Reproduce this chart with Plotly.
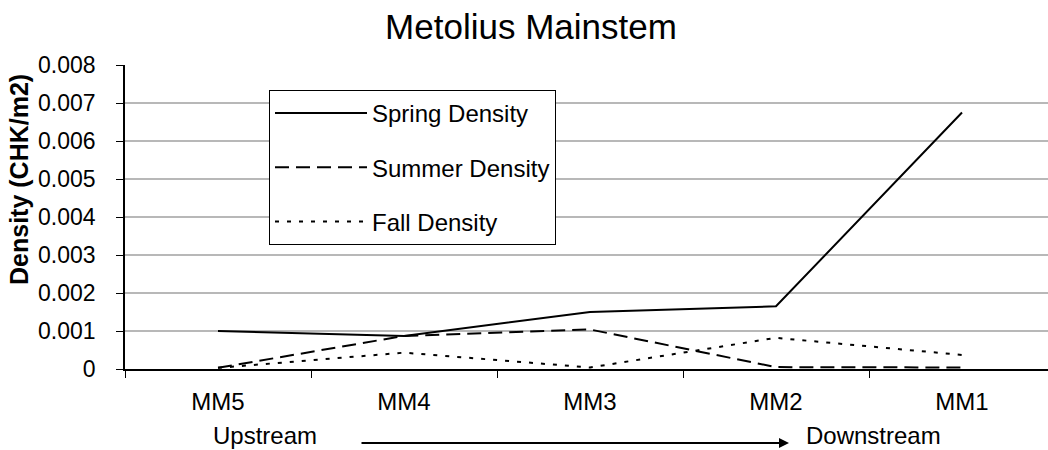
import plotly.graph_objects as go

categories = ["MM5", "MM4", "MM3", "MM2", "MM1"]
spring = [0.00100, 0.00087, 0.00150, 0.00165, 0.00675]
summer = [0.00003, 0.00087, 0.00104, 0.00005, 0.00004]
fall = [0.00003, 0.00043, 0.00004, 0.00082, 0.00037]
y_ticks = [0, 0.001, 0.002, 0.003, 0.004, 0.005, 0.006, 0.007, 0.008]
y_tick_text = ["0", "0.001", "0.002", "0.003", "0.004", "0.005", "0.006", "0.007", "0.008"]

W, H = 1048, 450
L, R, T, B = 125, 0, 65, 81
PW, PH = W - L - R, H - T - B

def px(x):
    return (x - L) / PW

def py(y):
    return (H - B - y) / PH

FONT = "Liberation Sans, Arial, sans-serif"

fig = go.Figure()
series = [
    ("Spring Density", spring, "solid"),
    ("Summer Density", summer, "14px,7px"),
    ("Fall Density", fall, "4px,8px"),
]
for i, (name, vals, dash) in enumerate(series):
    fig.add_trace(go.Scatter(
        x=categories, y=vals, name=name, mode="lines",
        line=dict(color="black", width=2, dash=dash),
        legendgroup=f"g{i}",
    ))

fig.update_layout(
    width=W, height=H,
    margin=dict(l=L, r=R, t=T, b=B),
    paper_bgcolor="white", plot_bgcolor="white",
    font=dict(family=FONT, size=24, color="black"),
    title=dict(text="Metolius Mainstem", x=531 / W, xanchor="center",
               xref="container", yref="container", y=1 - 27 / H, yanchor="middle",
               font=dict(size=35, family=FONT, color="black")),
    showlegend=True,
    legend=dict(x=px(269), y=py(90), xanchor="left", yanchor="top",
                bordercolor="black", borderwidth=1, bgcolor="white",
                font=dict(size=24, family=FONT), tracegroupgap=20,
                itemwidth=92, entrywidth=292),
    xaxis=dict(type="category", range=[-0.5, -0.5 + PW / 186.0],
               showline=True, linecolor="black", linewidth=1.5,
               ticks="outside", tickson="boundaries", ticklen=7, tickcolor="black",
               showgrid=False, ticklabelstandoff=10,
               tickfont=dict(size=24, family=FONT)),
    yaxis=dict(range=[0, 0.008], tickvals=y_ticks, ticktext=y_tick_text,
               showline=True, linecolor="black", linewidth=1.5,
               ticks="outside", ticklen=7, tickcolor="black",
               showgrid=True, gridcolor="#b8b8b8", gridwidth=1.5,
               zeroline=False, ticklabelstandoff=16,
               tickfont=dict(size=23, family=FONT)),
)

fig.add_annotation(text="<b>Density (CHK/m2)</b>", textangle=-90,
                   xref="paper", yref="paper", x=px(19), y=py(180),
                   xanchor="center", yanchor="middle", showarrow=False,
                   font=dict(size=25, family=FONT))
fig.add_annotation(text="Upstream", xref="paper", yref="paper",
                   x=px(265), y=py(435), xanchor="center", yanchor="middle",
                   showarrow=False, font=dict(size=24, family=FONT))
fig.add_annotation(text="Downstream", xref="paper", yref="paper",
                   x=px(873), y=py(435), xanchor="center", yanchor="middle",
                   showarrow=False, font=dict(size=24, family=FONT))
fig.add_annotation(text="", xref="paper", yref="paper",
                   x=px(789), y=py(443), ax=360 - 789, ay=0,
                   axref="pixel", ayref="pixel",
                   showarrow=True, arrowhead=2, arrowsize=1, arrowwidth=2,
                   arrowcolor="black")

fig.write_html("out.html")
